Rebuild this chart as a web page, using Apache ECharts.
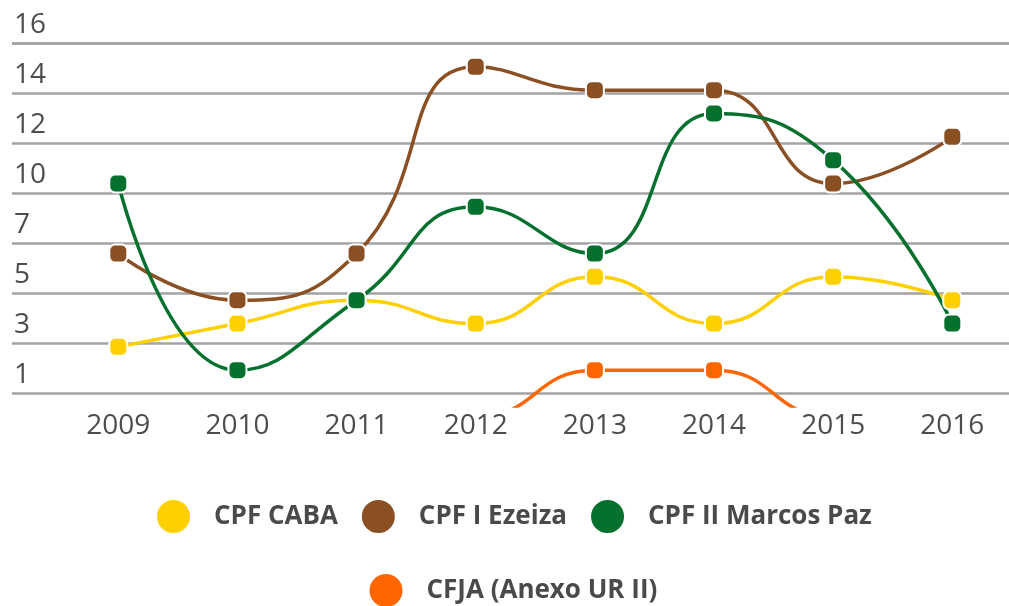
<!DOCTYPE html>
<html>
<head>
<meta charset="utf-8">
<script src="https://cdn.jsdelivr.net/npm/echarts@6/dist/echarts.min.js"></script>
<style>
html,body{margin:0;padding:0;background:#fff;}
#chart{width:1009px;height:606px;}
</style>
</head>
<body>
<div id="chart"></div>
<script>
const years = ['2009','2010','2011','2012','2013','2014','2015','2016'];
const cpfCaba = [3, 4, 5, 4, 6, 4, 6, 5];
const cpfEzeiza = [7, 5, 7, 15, 14, 14, 10, 12];
const cpfMarcosPaz = [10, 2, 5, 9, 7, 13, 11, 4];
const cfja = [0, 0, 0, 0, 2, 2, 0, 0];
const seriesNames = ['CPF CABA', 'CPF I Ezeiza', 'CPF II Marcos Paz', 'CFJA (Anexo UR II)'];
const colors = ['#FFD000', '#8B4F24', '#06712F', '#FF6600'];
const yMin = 1, yMax = 16, ySteps = 7;

const chart = echarts.init(document.getElementById('chart'), null, {renderer: 'canvas'});
const font = '"Open Sans", sans-serif';
const markerPath = 'path://M3.2,0H6.8A3.2,3.2 0 0 1 10,3.2V6.8A3.2,3.2 0 0 1 6.8,10H3.2A3.2,3.2 0 0 1 0,6.8V3.2A3.2,3.2 0 0 1 3.2,0Z';

function mkSeries(name, data, color) {
  return {
    name: name, type: 'line', data: data, xAxisIndex: 1, yAxisIndex: 1,
    smooth: 0.5, symbol: markerPath, symbolSize: 18,
    lineStyle: {color: color, width: 3.5},
    itemStyle: {color: color, borderColor: '#fff', borderWidth: 2},
    emphasis: {disabled: true}, z: 3
  };
}
const dataSets = [cpfCaba, cpfEzeiza, cpfMarcosPaz, cfja];

const option = {
  animation: false,
  backgroundColor: '#fff',
  color: colors,
  grid: [
    {left: 12, right: 0, top: 43.5, bottom: 212.5, containLabel: false},
    {left: 118.3, right: 56.7, top: 43.5, bottom: 200, containLabel: false}
  ],
  xAxis: [
    {type: 'value', gridIndex: 0, show: false, min: 0, max: 1},
    {type: 'category', gridIndex: 1, data: years, boundaryGap: false,
     axisLine: {show: false}, axisTick: {show: false}, splitLine: {show: false},
     axisLabel: {color: '#4d4d4d', fontSize: 28, fontFamily: font, margin: 6}}
  ],
  yAxis: [
    {type: 'value', gridIndex: 0, min: yMin, max: yMax, interval: (yMax - yMin) / ySteps,
     axisLine: {show: false}, axisTick: {show: false},
     splitLine: {show: true, lineStyle: {color: '#a3a3a3', width: 2.5}},
     axisLabel: {inside: true, margin: 2, color: '#4d4d4d', fontSize: 28, fontFamily: font,
       verticalAlign: 'bottom', padding: [0, 0, 4, 0],
       formatter: v => String(Math.round(v))}},
    {type: 'value', gridIndex: 1, min: 0.466, max: 16, show: false, splitLine: {show: false}}
  ],
  legend: [
    {data: seriesNames.slice(0, 3), top: 493, left: 150, icon: 'circle',
     itemWidth: 35, itemHeight: 35, itemGap: 22, selectedMode: false,
     textStyle: {color: '#4a4a4a', fontSize: 26, fontWeight: 'bold', fontFamily: font, padding: [0, 0, 0, 18]}},
    {data: seriesNames.slice(3), top: 567, left: 362.5, icon: 'circle',
     itemWidth: 35, itemHeight: 35, itemGap: 22, selectedMode: false,
     textStyle: {color: '#4a4a4a', fontSize: 26, fontWeight: 'bold', fontFamily: font, padding: [0, 0, 0, 18]}}
  ],
  series: seriesNames.map((n, i) => mkSeries(n, dataSets[i], colors[i]))
};
chart.setOption(option);
</script>
</body>
</html>
